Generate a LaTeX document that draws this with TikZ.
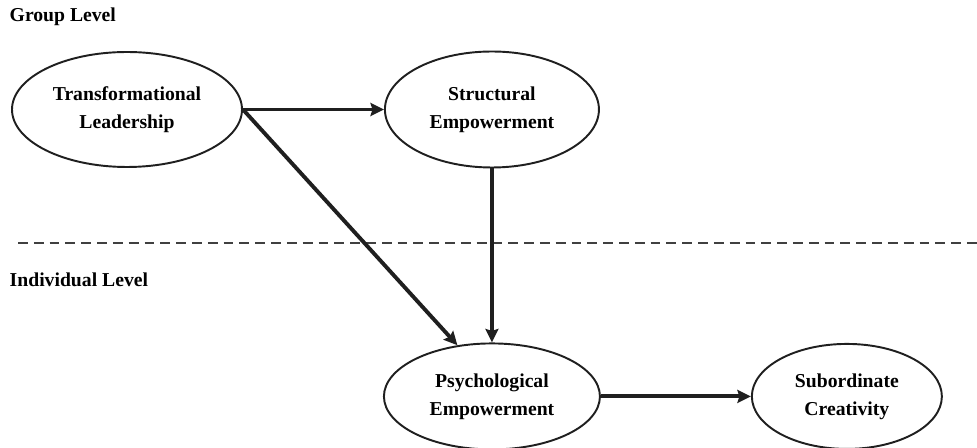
\documentclass[tikz,border=0pt]{standalone}
\usepackage{fontspec}
\setmainfont{Liberation Serif}
\usepackage{tikz}
\usetikzlibrary{shapes.geometric, arrows.meta, calc, positioning}

\begin{document}
\begin{tikzpicture}[auto, >={Stealth[length=0.27cm, width=0.26cm, inset=0.04cm]},
    font=\bfseries\fontsize{11.2}{15.9}\selectfont,
    construct/.style={ellipse, draw=black!88, line width=1.1pt, align=center, inner sep=0pt},
    effect/.style={->, draw=black!88, line width=2.2pt}]

    % Page frame
    \useasboundingbox (0,0) rectangle (19.54,-8.96);

    % Level labels
    \node[anchor=west] (group) at (0.07,-0.34) {Group Level};
    \node[anchor=west] (indiv) at (0.07,-5.6) {Individual Level};

    % Dashed border between the levels
    \coordinate (cutL) at (0.36,-4.86);
    \coordinate (cutR) at (19.54,-4.86);
    \draw[dashed, dash pattern=on 5.6pt off 3.4pt, line width=0.8pt, black!75] (cutL) -- (cutR);

    % Group level constructs
    \node[construct, minimum width=4.6cm, minimum height=2.3cm] 
          (transf) at (2.54,-2.19) {Transformational\\Leadership};
    \node[construct, minimum width=4.28cm, minimum height=2.32cm] 
          (struct) [right=2.82cm of transf] {Structural\\Empowerment};

    % Individual level constructs
    \node[construct, minimum width=4.32cm, minimum height=2.12cm] 
          (psych) [below=3.48cm of struct] {Psychological\\Empowerment};
    \node[construct, minimum width=3.8cm, minimum height=2.1cm] 
          (creat) [right=3.0cm of psych] {Subordinate\\Creativity};

    % Arrows between the nodes
    \draw[effect] (transf.east) -- (struct.west);
    \draw[effect] (transf.east) -- (psych.124);
    \draw[effect] (struct.south) -- (psych.north);
    \draw[effect] (psych.east) -- (creat.west);

\end{tikzpicture}
\end{document}
